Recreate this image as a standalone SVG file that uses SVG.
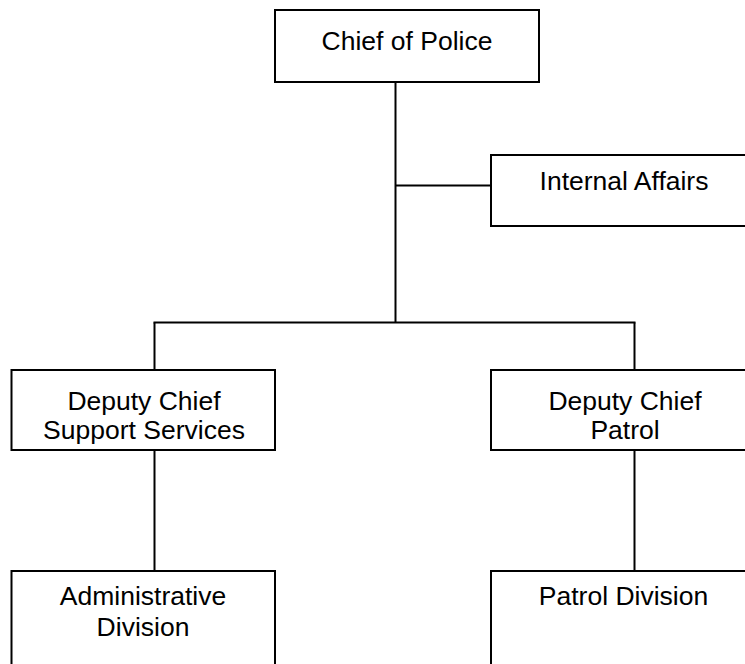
<svg xmlns="http://www.w3.org/2000/svg" width="745" height="664" viewBox="0 0 745 664">
  <style>
    .box { fill: #ffffff; stroke: #000000; stroke-width: 2; }
    .conn { fill: none; stroke: #000000; stroke-width: 2; }
    text { font-family: "Liberation Sans", Arial, sans-serif; font-size: 26.5px; fill: #000000; text-anchor: middle; }
  </style>
  <rect width="745" height="664" fill="#ffffff"/>
  <g id="connectors">
    <line class="conn" x1="395.5" y1="82" x2="395.5" y2="323"/>
    <line class="conn" x1="395.5" y1="185.5" x2="491" y2="185.5"/>
    <line class="conn" x1="153.5" y1="322.5" x2="635.5" y2="322.5"/>
    <line class="conn" x1="154.5" y1="322.5" x2="154.5" y2="370"/>
    <line class="conn" x1="634.5" y1="322.5" x2="634.5" y2="370"/>
    <line class="conn" x1="154.5" y1="450" x2="154.5" y2="571"/>
    <line class="conn" x1="634.5" y1="450" x2="634.5" y2="571"/>
  </g>
  <g id="chief">
    <rect class="box" x="275" y="10" width="264" height="72"/>
    <text x="407" y="50">Chief of Police</text>
  </g>
  <g id="internal-affairs">
    <rect class="box" x="491" y="155" width="264" height="71"/>
    <text x="624" y="190">Internal Affairs</text>
  </g>
  <g id="deputy-support">
    <rect class="box" x="11.5" y="370" width="263.5" height="80"/>
    <text x="144" y="410">Deputy Chief</text>
    <text x="144" y="438.5">Support Services</text>
  </g>
  <g id="deputy-patrol">
    <rect class="box" x="491" y="370" width="264" height="80"/>
    <text x="625" y="410">Deputy Chief</text>
    <text x="625" y="438.5">Patrol</text>
  </g>
  <g id="admin-division">
    <rect class="box" x="11.5" y="571" width="263.5" height="120"/>
    <text x="143" y="604.5">Administrative</text>
    <text x="143" y="635.5">Division</text>
  </g>
  <g id="patrol-division">
    <rect class="box" x="491" y="571" width="264" height="120"/>
    <text x="623.5" y="605">Patrol Division</text>
  </g>
</svg>
